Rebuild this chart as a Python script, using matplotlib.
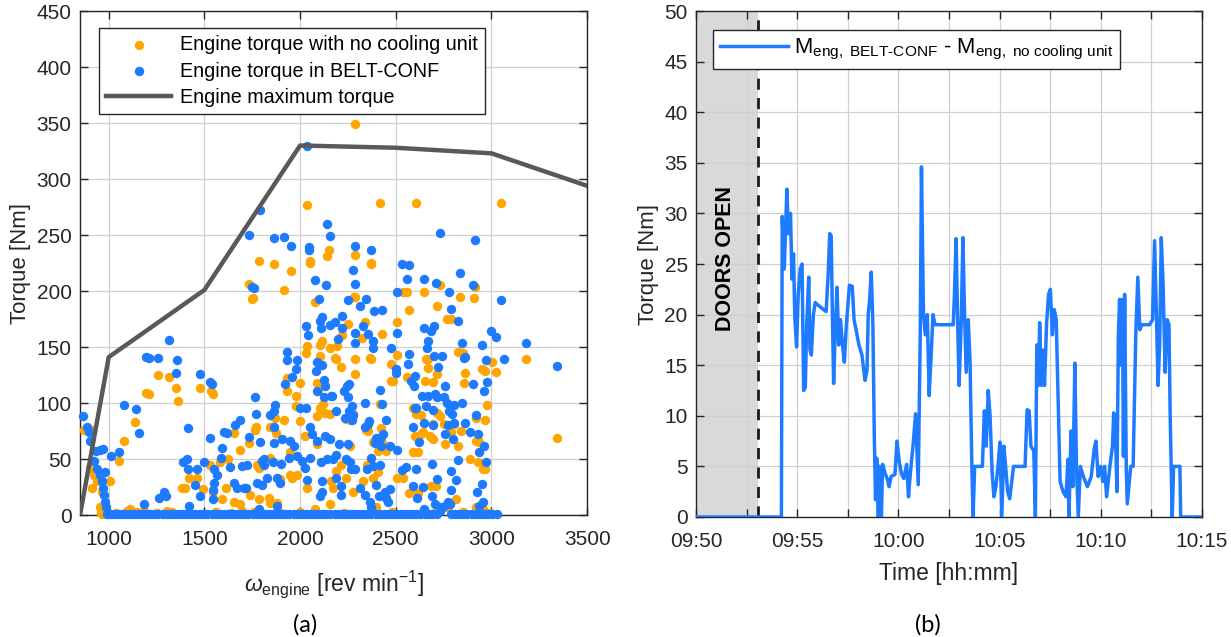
import matplotlib
matplotlib.use("Agg")
import matplotlib.pyplot as plt
import numpy as np

plt.rcParams['font.family'] = ['Liberation Sans', 'DejaVu Sans']
plt.rcParams['mathtext.fontset'] = 'custom'
plt.rcParams['mathtext.rm'] = 'Liberation Sans'
plt.rcParams['mathtext.it'] = 'Liberation Sans:italic'
plt.rcParams['mathtext.bf'] = 'Liberation Sans:bold'

ORANGE = '#FFA500'
BLUE = '#1E7BFF'
GREY = '#595959'

# ---------------- (a) engine operating points ----------------
max_rpm = [850, 1000, 1500, 2000, 2500, 3000, 3500]
max_torque = [0, 141, 201, 330, 328, 323, 294]

# engine torque with no cooling unit (rpm, Nm)
no_cool_pts = [
    (2036, 277), (2050, 227), (2050, 225), (2150, 237), (2138, 231), (1787, 227),
    (1866, 224), (1955, 218), (1918, 201), (1732, 206), (1753, 194), (1747, 193),
    (2080, 190), (2115, 155), (2106, 152), (2158, 149), (2184, 140), (2036, 151),
    (2033, 145), (2106, 142), (1258, 125), (1314, 123), (1353, 113), (1362, 102),
    (1197, 109), (1209, 108), (1476, 113), (1537, 111), (1545, 108), (1139, 83),
    (1078, 66), (1052, 48), (1929, 122), (1929, 111), (1981, 106), (1981, 97),
    (1998, 118), (2089, 118), (2092, 111), (2120, 99), (2106, 96), (2132, 91),
    (2089, 88), (2155, 90), (1918, 85), (1998, 84), (1871, 87), (1845, 79),
    (1876, 73), (1772, 79), (1763, 76), (1732, 64), (1688, 58), (1653, 73),
    (2028, 71), (2089, 63), (1949, 56), (1949, 36), (1984, 36), (1845, 51),
    (1775, 45), (1784, 42), (1622, 50), (1584, 47), (1531, 45), (913, 76),
    (869, 76), (904, 42), (922, 36), (939, 30), (1009, 30), (913, 24), (965, 21),
    (956, 7), (965, 1), (991, 4), (1418, 33), (1383, 24), (1401, 24), (1461, 33),
    (1493, 23), (1545, 21), (1592, 14), (1615, 24), (1653, 12), (1688, 10),
    (1740, 18), (1784, 14), (1836, 15), (1845, 11), (1880, 11), (1897, 32),
    (1958, 33), (2036, 24), (2080, 5), (2158, 10), (1096, 4), (1113, 5),
    (1305, 4), (1183, 4), (1697, 4),
    (2289, 349), (2416, 279), (2605, 279), (3052, 279), (2289, 232), (2368, 225),
    (2368, 224), (2281, 195), (2289, 195), (2538, 199), (2559, 199), (2646, 199),
    (2730, 205), (2834, 195), (2908, 194), (2913, 204), (2713, 187), (2568, 183),
    (2507, 172), (2768, 175), (2790, 175), (2251, 171), (2338, 172), (2321, 158),
    (2430, 162), (2221, 161), (2193, 151), (2186, 139), (2289, 139), (2373, 139),
    (2364, 140), (2507, 143), (2660, 139), (2667, 139), (2826, 146), (2852, 145),
    (2216, 132), (2289, 126), (2474, 135), (2474, 120), (2486, 120), (2559, 123),
    (2655, 120), (2695, 119), (2716, 126), (2669, 131), (2860, 127), (2857, 118),
    (2953, 130), (2965, 129), (3003, 137), (3021, 128), (2977, 98), (3179, 139),
    (3340, 69), (2416, 99), (2274, 90), (2242, 86), (2260, 85), (2590, 96),
    (2603, 90), (2634, 89), (2716, 91), (2733, 88), (2695, 81), (2751, 81),
    (2803, 81), (2786, 74), (2841, 75), (2918, 87), (2964, 85), (2343, 76),
    (2355, 75), (2425, 78), (2434, 63), (2382, 65), (2451, 57), (2643, 74),
    (2695, 68), (2599, 71), (2634, 72), (2678, 71), (2756, 63), (2826, 62),
    (2918, 66), (2935, 65), (2890, 50), (2930, 47), (2956, 41), (2965, 41),
    (2590, 56), (2616, 56), (2260, 62), (2216, 45), (2242, 33), (2190, 39),
    (2351, 45), (2382, 33), (2407, 38), (2407, 57), (2505, 33), (2540, 33),
    (2568, 20), (2616, 20), (2686, 26), (2712, 26), (2817, 14), (2774, 7),
    (2918, 7), (2277, 21), (2329, 30), (2172, 24), (2164, 30), (2956, 5),
    (2399, 7),
    (960, 2), (975, 3), (1040, 2), (1150, 3), (1250, 2), (1330, 3), (1420, 2),
    (1560, 3), (1640, 2), (1760, 3), (1900, 2), (2000, 3), (2230, 2), (2480, 3),
    (2700, 2), (2850, 3), (2990, 2),
]

# engine torque in BELT-CONF (rpm, Nm)
belt_pts = [
    (2036, 330), (1789, 272), (1732, 250), (1866, 247), (1918, 248), (1955, 240),
    (2049, 239), (2049, 237), (2141, 260), (2155, 249), (2080, 210), (2137, 205),
    (2101, 193), (1749, 204), (1758, 203), (2115, 177), (2106, 173), (2110, 167),
    (2158, 170), (2184, 172), (2030, 169), (2040, 161), (2089, 137), (2115, 134),
    (1932, 146), (1929, 138), (1984, 138), (1979, 130), (1958, 123), (1923, 117),
    (2085, 129), (2124, 121), (2132, 115), (2089, 111), (2124, 105), (2167, 106),
    (2002, 96), (2033, 96), (1871, 98), (1866, 93), (1763, 105), (1770, 90),
    (1841, 89), (1866, 79), (1688, 85), (1660, 80), (1735, 70), (1793, 65),
    (1862, 64), (1906, 68), (1949, 66), (1967, 62), (1984, 53), (2054, 79),
    (2063, 72), (2089, 66), (2132, 71), (2155, 68), (2054, 51), (2110, 47),
    (2141, 50), (1601, 74), (1618, 73), (1531, 69), (1413, 78), (1157, 73),
    (1141, 95), (1078, 98), (1357, 138), (1349, 127), (1314, 156), (1258, 140),
    (1197, 141), (1209, 140), (1476, 126), (1531, 119), (1540, 117), (866, 88),
    (887, 79), (896, 74), (904, 66), (956, 58), (969, 59), (936, 57), (925, 48),
    (1014, 53), (1052, 56), (939, 41), (983, 38), (953, 36), (965, 30), (970, 24),
    (974, 18), (983, 12), (988, 7), (1388, 47), (1409, 50), (1414, 41),
    (1461, 41), (1496, 47), (1549, 41), (1587, 51), (1592, 60), (1636, 43),
    (1697, 44), (1723, 45), (1801, 48), (1810, 50), (1810, 45), (1859, 47),
    (1901, 46), (1944, 51), (2012, 48), (2024, 42), (1549, 29), (1566, 36),
    (1653, 29), (1671, 24), (1706, 24), (1719, 24), (1775, 29), (1801, 27),
    (1827, 33), (1880, 33), (1897, 29), (2036, 31), (2115, 30), (2115, 21),
    (2106, 17), (1291, 21), (1301, 17), (1261, 15), (1453, 27), (1479, 17),
    (1545, 14), (1544, 22), (1418, 8), (1183, 10), (1880, 8), (1784, 5),
    (2730, 252), (2913, 246), (2289, 240), (2368, 237), (2277, 219), (2289, 206),
    (2535, 224), (2570, 223), (2556, 211), (2646, 211), (2712, 207), (2834, 216),
    (2904, 205), (2777, 199), (2504, 199), (2251, 192), (2343, 193), (2221, 178),
    (2315, 187), (2385, 182), (2429, 183), (2790, 184), (2824, 173), (3052, 192),
    (2199, 157), (2221, 167), (2289, 163), (2329, 169), (2355, 162), (2289, 154),
    (2382, 155), (2380, 149), (2504, 163), (2646, 167), (2683, 164), (2700, 169),
    (2669, 155), (2661, 149), (2475, 149), (2569, 144), (2566, 135), (2500, 130),
    (2500, 127), (2700, 142), (2742, 142), (2721, 132), (2846, 154), (2860, 141),
    (2855, 140), (2951, 152), (2969, 138), (3000, 164), (3021, 159), (3066, 139),
    (3178, 154), (3340, 133), (2977, 119), (2904, 117), (2960, 111), (2758, 115),
    (2601, 124), (2577, 120), (2594, 115), (2638, 106), (2669, 106), (2704, 108),
    (2716, 105), (2751, 105), (2768, 100), (2803, 98), (2847, 100), (2601, 96),
    (2608, 96), (2657, 97), (2692, 94), (2777, 93), (2796, 90), (2918, 89),
    (2646, 82), (2590, 79), (2695, 80), (2772, 80), (2803, 82), (2860, 82),
    (2890, 74), (2932, 72), (2758, 72), (2800, 68), (2621, 65), (2960, 62),
    (2935, 56), (2969, 47), (2826, 49), (2790, 39), (2813, 31), (2689, 46),
    (2716, 32), (2608, 41), (2554, 43), (2533, 40), (2592, 26), (2610, 15),
    (2641, 25), (2689, 17), (2790, 22), (2925, 21), (2951, 28), (2958, 12),
    (2934, 8), (2648, 5), (2704, 10), (2738, 7), (2765, 10), (2782, 10),
    (2469, 23), (2443, 21), (2451, 15), (2460, 12), (2413, 17), (2399, 27),
    (2504, 58), (2469, 62), (2425, 70), (2434, 72), (2389, 64), (2399, 69),
    (2425, 62), (2359, 84), (2355, 81), (2338, 79), (2451, 85), (2416, 112),
    (2429, 99), (2338, 100), (2270, 97), (2270, 85), (2237, 87), (2255, 93),
    (2230, 111), (2247, 115), (2255, 117), (2274, 89), (2249, 105), (2164, 106),
    (2186, 93), (2204, 63), (2251, 63), (2242, 50), (2260, 47), (2268, 41),
    (2285, 41), (2347, 41), (2373, 51), (2382, 44), (2416, 45), (2190, 54),
    (2173, 50), (2216, 26), (2190, 33), (2312, 24), (2338, 18), (2364, 12),
    (2216, 18), (2373, 7), (2730, 4), (2747, 7), (2773, 12),
]

# idle / overrun points of BELT-CONF lying on the x axis
belt_zero_rpm = [
    992, 1008, 1027, 1049, 1068, 1090, 1111, 1133, 1152, 1174, 1196, 1217, 1238,
    1259, 1281, 1302, 1324, 1345, 1366, 1388, 1409, 1431, 1452, 1473, 1495, 1516,
    1538, 1559, 1580, 1602, 1623, 1645, 1666, 1687, 1709, 1730, 1752, 1773, 1794,
    1816, 1837, 1859, 1880, 1901, 1923, 1944, 1966, 1987, 2008, 2030, 2051, 2073,
    2094, 2115, 2137, 2158, 2180, 2201, 2222, 2244, 2265, 2287, 2308, 2329, 2351,
    2372, 2394, 2415, 2436, 2458, 2479, 2501, 2522, 2543, 2565, 2586, 2608, 2629,
    2650, 2672, 2693, 2714, 2790, 2810, 2832, 2853, 2874, 2896, 2917, 2939, 2960,
    2981, 3003, 3030,
]

# ---------------- (b) torque difference vs time ----------------
# minutes after 09:50
diff_t = [
    0.0, 4.22, 4.26, 4.36, 4.49, 4.57, 4.67, 4.74, 4.82, 4.88, 4.97, 5.05, 5.15,
    5.24, 5.32, 5.40, 5.47, 5.57, 5.63, 5.70, 5.80, 5.89, 5.99, 6.18, 6.43, 6.53,
    6.61, 6.68, 6.74, 6.80, 6.89, 6.97, 7.05, 7.14, 7.24, 7.33, 7.43, 7.58, 7.72,
    7.81, 7.91, 8.05, 8.20, 8.35, 8.45, 8.51, 8.58, 8.66, 8.74, 8.81, 8.87, 8.93,
    9.01, 9.06, 9.16, 9.22, 9.35, 9.46, 9.54, 9.64, 9.83, 9.93, 10.04, 10.16,
    10.27, 10.41, 10.50, 10.60, 10.73, 10.85, 10.98, 11.08, 11.14, 11.24, 11.33,
    11.43, 11.52, 11.62, 11.71, 11.81, 12.23, 12.71, 12.77, 12.85, 12.92, 13.00,
    13.10, 13.19, 13.27, 13.35, 13.45, 13.54, 13.63, 13.69, 13.77, 14.15, 14.25,
    14.34, 14.44, 14.53, 14.63, 14.72, 14.82, 14.92, 15.02, 15.11, 15.21, 15.30,
    15.40, 15.50, 15.69, 16.26, 16.36, 16.46, 16.55, 16.69, 16.77, 16.84, 16.92,
    16.98, 17.07, 17.15, 17.22, 17.32, 17.42, 17.51, 17.61, 17.70, 17.80, 17.89,
    17.99, 18.14, 18.28, 18.38, 18.43, 18.53, 18.62, 18.72, 18.80, 18.89, 18.99,
    19.14, 19.34, 19.53, 19.68, 19.76, 19.87, 20.00, 20.10, 20.19, 20.29, 20.45,
    20.58, 20.64, 20.72, 20.80, 20.87, 20.93, 20.99, 21.07, 21.12, 21.18, 21.26,
    21.31, 21.39, 21.48, 21.60, 21.73, 21.83, 21.93, 22.02, 22.41, 22.56, 22.66,
    22.75, 22.83, 22.91, 22.99, 23.08, 23.18, 23.28, 23.37, 23.43, 23.53, 23.60,
    23.91, 23.95, 25.0,
]
diff_torque = [
    0, 0, 29.7, 24.5, 32.4, 28, 30, 23.5, 26, 19.8, 16.8, 22, 24.5,
    25, 12.5, 12.8, 19, 23.7, 16.5, 16, 20, 21.2, 21, 20.7, 20.3, 24,
    28, 27.8, 20, 13.2, 19, 22.7, 17, 19.5, 17, 15.3, 19, 22.9, 22.8,
    19.5, 18.5, 17, 16, 13.5, 14.5, 20, 21.5, 24.2, 19, 8, 1.7, 5.8,
    0, 5, 0, 5.2, 4.3, 3.7, 3, 4, 4.2, 7.5, 5.5, 4.2,
    3.8, 5.2, 2, 4.5, 7.2, 10.2, 3.2, 18, 34.6, 20, 18,
    20, 12, 16, 20, 19, 19, 19, 22, 27.5, 20, 13,
    19, 27.6, 20, 14.3, 19.5, 15.5, 5, 0, 5, 5, 10.5,
    7, 12.5, 10, 4.5, 2, 3, 5, 7.4, 0, 7, 5,
    2.5, 1.8, 5, 5, 10.6, 10.5, 7, 6.5, 0, 17, 13,
    19.2, 13, 16.5, 13, 19, 22, 22.5, 18, 20.5, 19.5, 12,
    3.5, 2.5, 2, 5.7, 0, 8.5, 3, 15.2, 5, 0, 5,
    4, 3, 4, 6.8, 7.5, 4, 5, 3.5, 5, 2, 5,
    7, 10.3, 9, 2.5, 18, 21.5, 15, 21.5, 6, 22, 5,
    1.3, 3, 5, 5, 18, 23.7, 18.5, 19, 19, 19.5, 27.3,
    20, 13, 17, 27.6, 23, 14.3, 19.5, 19, 10, 0, 5,
    5, 0, 0,
]
doors_open_end = 3.05  # minutes after 09:50
time_labels = ['09:50', '09:55', '10:00', '10:05', '10:10', '10:15']


def style_axes(ax):
    for sp in ax.spines.values():
        sp.set_color('#262626')
        sp.set_linewidth(1.0)
    ax.tick_params(direction='in', top=True, right=True, length=6, width=1,
                   color='#262626', labelsize=15, labelcolor='#262626')
    ax.tick_params(axis='y', pad=6)
    ax.tick_params(axis='x', pad=11)
    ax.grid(True, color='#d0d0d0', linewidth=0.9)
    ax.set_axisbelow(True)


fig = plt.figure(figsize=(12.31, 6.37), dpi=100)
ax1 = fig.add_axes([0.065, 0.1915, 0.412, 0.791])
ax2 = fig.add_axes([0.5654, 0.1884, 0.411, 0.7943])

# ---- left panel
nc = np.array(no_cool_pts)
bt = np.array(belt_pts)
bz = np.array(belt_zero_rpm)
ax1.scatter(nc[:, 0], nc[:, 1], s=46, color=ORANGE, linewidths=0, zorder=3,
            clip_on=False, label='Engine torque with no cooling unit')
ax1.scatter(bt[:, 0], bt[:, 1], s=46, color=BLUE, linewidths=0, zorder=3,
            clip_on=False, label='Engine torque in BELT-CONF')
ax1.scatter(bz, np.ones_like(bz), s=46, color=BLUE, linewidths=0, zorder=3,
            clip_on=False)
ax1.plot(max_rpm, max_torque, color=GREY, linewidth=3.2, zorder=4,
         label='Engine maximum torque')
ax1.set_xlim(850, 3500)
ax1.set_ylim(0, 450)
ax1.set_xticks([1000, 1500, 2000, 2500, 3000, 3500])
ax1.set_yticks(np.arange(0, 451, 50))
style_axes(ax1)
ax1.set_ylabel('Torque [Nm]', fontsize=16, color='#262626', labelpad=4)
ax1.set_xlabel(r'$\omega_{\mathrm{engine}}$ [rev min$^{\mathrm{-1}}$]',
               fontsize=16.5, color='#262626', labelpad=14)
leg1 = ax1.legend(loc='upper left', bbox_to_anchor=(0.038, 0.966), fontsize=14.2,
                  frameon=True, fancybox=False, framealpha=1, edgecolor='#262626',
                  handlelength=3.3, handletextpad=0.45, labelspacing=0.38,
                  borderpad=0.35, borderaxespad=0, markerscale=1.0)
leg1.get_frame().set_linewidth(1.0)

# ---- right panel
ax2.axvspan(0, doors_open_end, color='#d9d9d9', zorder=0.2, linewidth=0)
ax2.axvline(doors_open_end, color='#1a1a1a', linestyle=(0, (4, 3)),
            linewidth=2.0, zorder=2)
ax2.plot(diff_t, diff_torque, color=BLUE, linewidth=2.5, zorder=3,
         label=r'M$_{\mathrm{eng,\ BELT\text{-}CONF}}$ - M$_{\mathrm{eng,\ no\ cooling\ unit}}$')
ax2.text(1.45, 25.5, 'DOORS OPEN', rotation=90, ha='center', va='center',
         fontsize=15.5, fontweight='bold', color='black', zorder=4)
ax2.set_xlim(0, 25)
ax2.set_ylim(0, 50)
tick_pos = np.arange(0, 25.01, 2.5)
ax2.set_xticks(tick_pos)
ax2.set_xticklabels([time_labels[int(p // 5)] if p % 5 == 0 else '' for p in tick_pos])
ax2.set_yticks(np.arange(0, 51, 5))
style_axes(ax2)
ax2.set_ylabel('Torque [Nm]', fontsize=16, color='#262626', labelpad=4)
ax2.set_xlabel('Time [hh:mm]', fontsize=16.5, color='#262626', labelpad=8)
leg2 = ax2.legend(loc='upper left', bbox_to_anchor=(0.034, 0.962), fontsize=15.8,
                  frameon=True, fancybox=False, framealpha=1, edgecolor='#262626',
                  handlelength=3.1, handletextpad=0.3, borderpad=0.3,
                  borderaxespad=0)
leg2.get_frame().set_linewidth(1.0)

fig.text(305 / 1231, 1 - 625 / 637, '(a)', fontsize=17, family=['Lato', 'DejaVu Sans'],
         ha='center', va='center')
fig.text(928 / 1231, 1 - 625 / 637, '(b)', fontsize=17, family=['Lato', 'DejaVu Sans'],
         ha='center', va='center')

fig.savefig('out.png', dpi=100)
